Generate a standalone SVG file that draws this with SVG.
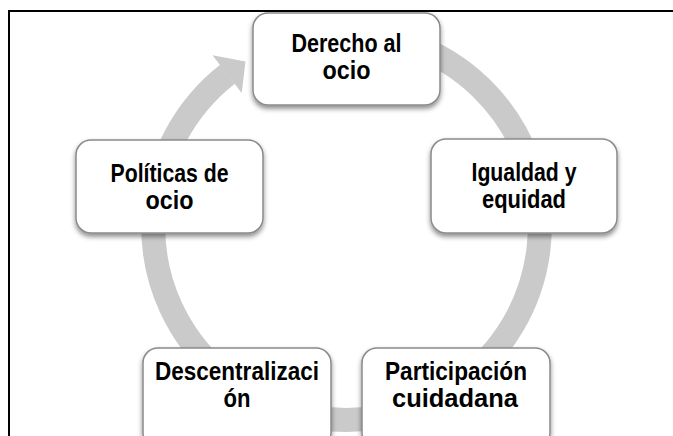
<svg xmlns="http://www.w3.org/2000/svg" width="673" height="436" viewBox="0 0 673 436">
<defs>
<filter id="sh" x="-20%" y="-20%" width="140%" height="150%">
<feDropShadow dx="0" dy="3" stdDeviation="2.5" flood-color="#000" flood-opacity="0.45"/>
</filter>
<style>
.box{fill:#fff;stroke:#8a8a8a;stroke-width:1.5;filter:url(#sh)}
.lbl{font-family:"Liberation Sans",Arial,sans-serif;font-weight:bold;font-size:25px;fill:#000;text-anchor:middle}
.ring{fill:none;stroke:#cacaca;stroke-width:24}
.head{fill:#cacaca}
.frame{stroke:#000;stroke-width:2;fill:none}
</style>
</defs>
<rect width="673" height="436" fill="#fff"/>
<path class="frame" d="M9,436 V11 H673"/>
<g id="connectors">
<path class="ring" d="M412.6,44.9 A193.3,193.3 0 1 1 227.5,74.2"/>
<polygon class="head" points="212.5,55.3 245.5,61.5 241.7,93"/>
</g>
<g id="n1">
<rect class="box" x="253" y="13" width="187" height="92" rx="15"/>
<text class="lbl" x="346.5" y="52" textLength="110" lengthAdjust="spacingAndGlyphs">Derecho al</text>
<text class="lbl" x="346.5" y="79" textLength="48" lengthAdjust="spacingAndGlyphs">ocio</text>
</g>
<g id="n2">
<rect class="box" x="431" y="139" width="186" height="94" rx="15"/>
<text class="lbl" x="524" y="181" textLength="105" lengthAdjust="spacingAndGlyphs">Igualdad y</text>
<text class="lbl" x="524" y="208" textLength="84" lengthAdjust="spacingAndGlyphs">equidad</text>
</g>
<g id="n3">
<rect class="box" x="362" y="348" width="188" height="100" rx="15"/>
<text class="lbl" x="456" y="380" textLength="142" lengthAdjust="spacingAndGlyphs">Participación</text>
<text class="lbl" x="455" y="407" textLength="126" lengthAdjust="spacingAndGlyphs">cuidadana</text>
</g>
<g id="n4">
<rect class="box" x="143" y="348" width="188" height="100" rx="15"/>
<text class="lbl" x="237" y="380" textLength="164" lengthAdjust="spacingAndGlyphs">Descentralizaci</text>
<text class="lbl" x="237" y="407" textLength="27" lengthAdjust="spacingAndGlyphs">ón</text>
</g>
<g id="n5">
<rect class="box" x="76" y="140" width="187" height="93" rx="15"/>
<text class="lbl" x="169.5" y="182" textLength="118" lengthAdjust="spacingAndGlyphs">Políticas de</text>
<text class="lbl" x="169.5" y="209" textLength="48" lengthAdjust="spacingAndGlyphs">ocio</text>
</g>
</svg>
